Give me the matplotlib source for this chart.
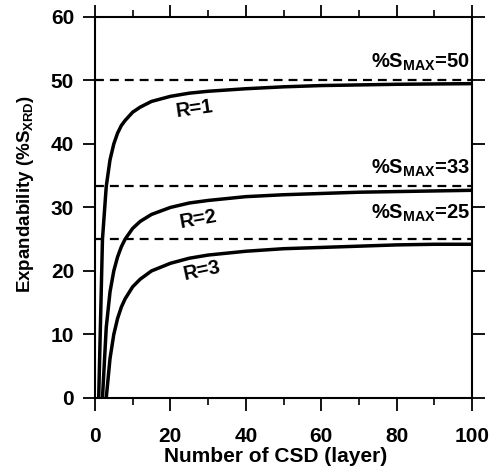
import numpy as np
import matplotlib
matplotlib.use("Agg")
import matplotlib.pyplot as plt
from matplotlib.ticker import MultipleLocator

plt.rcParams['font.family'] = ['Liberation Sans', 'DejaVu Sans']
plt.rcParams['font.weight'] = 'bold'
plt.rcParams['mathtext.fontset'] = 'custom'
plt.rcParams['mathtext.bf'] = 'Liberation Sans:bold'
plt.rcParams['mathtext.rm'] = 'Liberation Sans:bold'
plt.rcParams['mathtext.default'] = 'bf'

# valores
n_r1 = [1, 2, 3, 4, 5, 6, 7, 8, 10, 12, 15, 20, 25, 30, 40, 50, 60, 70, 80, 90, 100]
s_r1 = [0, 25, 33.3, 37.5, 40, 41.7, 42.9, 43.7, 45, 45.8, 46.7, 47.5, 48, 48.3, 48.7, 49, 49.2, 49.3, 49.4, 49.45, 49.5]

n_r2 = [2, 3, 4, 5, 6, 7, 8, 10, 12, 15, 20, 25, 30, 40, 50, 60, 70, 80, 90, 100]
s_r2 = [0, 11.1, 16.7, 20, 22.2, 23.8, 25, 26.7, 27.8, 28.9, 30, 30.7, 31.1, 31.7, 32, 32.2, 32.4, 32.5, 32.6, 32.7]

n_r3 = [3, 4, 5, 6, 7, 8, 10, 12, 15, 20, 25, 30, 40, 50, 60, 70, 80, 90, 100]
s_r3 = [0, 6.2, 10, 12.5, 14.3, 15.6, 17.5, 18.7, 20, 21.2, 22, 22.5, 23.1, 23.5, 23.7, 23.9, 24.1, 24.2, 24.2]

s_max = [50, 33.3, 25]
s_max_txt = ['50', '33', '25']
etiquetas_r = ['R=1', 'R=2', 'R=3']

fig = plt.figure(figsize=(4.97, 4.72), dpi=100)
ax = fig.add_axes([0.191, 0.157, 0.759, 0.807])

# lineas de saturacion
for s in s_max:
    ax.plot([0, 100], [s, s], color='black', linewidth=1.6, dashes=(4, 2.7))

for n, s in [(n_r1, s_r1), (n_r2, s_r2), (n_r3, s_r3)]:
    ax.plot(n, s, color='black', linewidth=2.5, solid_joinstyle='round')

# etiquetas
ax.text(26.5, 45.5, etiquetas_r[0], fontsize=14.5, rotation=8, ha='center', va='center')
ax.text(27.5, 28.2, etiquetas_r[1], fontsize=14.5, rotation=10, ha='center', va='center')
ax.text(28.5, 20.0, etiquetas_r[2], fontsize=14.5, rotation=12, ha='center', va='center')

pos_txt = [52.9, 36.2, 29.1]
for y, t in zip(pos_txt, s_max_txt):
    ax.text(99.3, y, r'%S$_{MAX}$=' + t, fontsize=14.5, ha='right', va='center')

ax.set_xlim(0, 100)
ax.set_ylim(0, 60)
ax.xaxis.set_major_locator(MultipleLocator(20))
ax.xaxis.set_minor_locator(MultipleLocator(10))
ax.yaxis.set_major_locator(MultipleLocator(10))

ax.tick_params(which='major', direction='out', length=9, width=1.3,
               top=True, right=True, labelsize=15, pad=6)
ax.tick_params(axis='x', which='major', pad=12)
ax.tick_params(which='minor', direction='out', length=5, width=1.2, top=True, right=False)
ax.tick_params(axis='y', which='minor', left=False, right=False)
for sp in ax.spines.values():
    sp.set_linewidth(1.5)

ax.set_xlabel('Number of CSD (layer)', fontsize=15, fontweight='bold')
ax.xaxis.set_label_coords(0.48, -0.128)
ax.set_ylabel(r'Expandability (%S$_{XRD}$)', fontsize=13.5, fontweight='bold')
ax.yaxis.set_label_coords(-0.155, 0.535)

plt.savefig('out.png', dpi=100)
plt.close()
